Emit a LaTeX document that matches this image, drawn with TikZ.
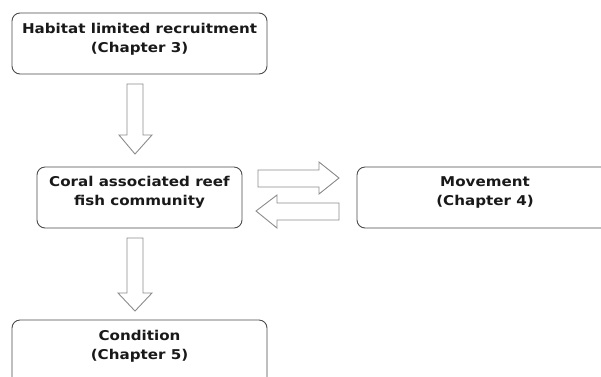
\documentclass[tikz,border=0pt]{standalone}
\usepackage{fontspec}
\setmainfont[FakeStretch=1.12]{DejaVu Sans}
\begin{document}
\begin{tikzpicture}[x=1pt,y=-1pt,
  box/.style={draw=black!70,line width=0.9pt,rounded corners=8pt},
  lbl/.style={font=\bfseries\fontsize{13.5}{18.5}\selectfont,align=center,text=black!90,inner sep=0pt},
  blockarrow/.style={draw=black!45,line width=0.9pt,fill=white,line join=miter}]
\useasboundingbox (0,0) rectangle (601,376);
\clip (0,0) rectangle (601,376);
\fill[white] (0,0) rectangle (601,376);
% boxes
\draw[box] (12,13) rectangle (267,74);
\node[lbl] (habitat) at (139.5,39.5) {Habitat limited recruitment\\(Chapter 3)};
\draw[box] (37,167) rectangle (242,228);
\node[lbl] (coral) at (139.5,192.5) {Coral associated reef\\fish community};
\draw[box] (357,167) rectangle (613,228);
\node[lbl] (movement) at (485,192.5) {Movement\\(Chapter 4)};
\draw[box] (12,320) rectangle (267,400);
\node[lbl] (condition) at (139.5,346.5) {Condition\\(Chapter 5)};
% block arrows
\draw[blockarrow] (127,84) -- (143,84) -- (143,135) -- (152,135) -- (135,154) -- (119,135) -- (127,135) -- cycle;
\draw[blockarrow] (127,238) -- (143,238) -- (143,293) -- (152,293) -- (135,311) -- (118,293) -- (127,293) -- cycle;
\draw[blockarrow] (258,170) -- (319,170) -- (319,162) -- (339,178) -- (319,194) -- (319,187) -- (258,187) -- cycle;
\draw[blockarrow] (339,203) -- (277,203) -- (277,195) -- (256,211) -- (277,228) -- (277,220) -- (339,220) -- cycle;
\end{tikzpicture}
\end{document}
